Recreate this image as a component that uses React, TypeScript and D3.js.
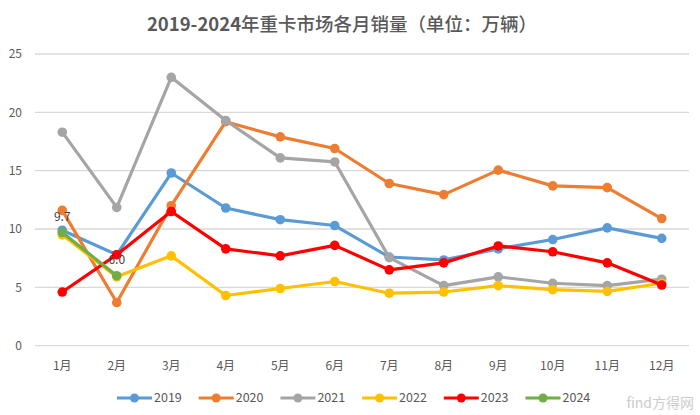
import React from "react";
import * as d3 from "d3";

const months = ["1月","2月","3月","4月","5月","6月","7月","8月","9月","10月","11月","12月"];
const years = ["2019","2020","2021","2022","2023","2024"];
const colors = ["#5B9BD5","#ED7D31","#A5A5A5","#FFC000","#FF0000","#70AD47"];
const s2019 = [9.9, 7.8, 14.8, 11.8, 10.8, 10.3, 7.6, 7.35, 8.3, 9.1, 10.1, 9.2];
const s2020 = [11.6, 3.7, 12.0, 19.2, 17.9, 16.9, 13.9, 12.95, 15.05, 13.7, 13.55, 10.9];
const s2021 = [18.3, 11.85, 23.0, 19.3, 16.1, 15.75, 7.55, 5.15, 5.9, 5.35, 5.15, 5.7];
const s2022 = [9.5, 5.9, 7.7, 4.3, 4.9, 5.5, 4.5, 4.6, 5.15, 4.8, 4.65, 5.35];
const s2023 = [4.6, 7.8, 11.5, 8.3, 7.7, 8.6, 6.5, 7.1, 8.55, 8.05, 7.1, 5.2];
const s2024 = [9.7, 6.0];
const series = [s2019, s2020, s2021, s2022, s2023, s2024];
const yTicks = [0, 5, 10, 15, 20, 25];

export default function App() {
  const W = 700, H = 415;
  const left = 35, right = 689, top = 54, bottom = 345.7;
  const x = d3.scaleBand<string>().domain(months).range([left, right]);
  const y = d3.scaleLinear().domain([0, 25]).range([bottom, top]);
  const cx = (m: string) => (x(m) as number) + x.bandwidth() / 2;
  const line = d3.line<number>().x((_, i) => cx(months[i])).y((d) => y(d));
  const font = "'Noto Sans CJK SC', 'Noto Sans', sans-serif";
  const legendX0 = 117, legendStep = 81.7;
  return (
    <svg width={W} height={H} style={{ position: "absolute", left: 0, top: 0, background: "#fff" }} fontFamily={font}>
      <text x={342} y={31} textAnchor="middle" fontSize={18.5} fill="#595959">
        <tspan fontWeight="bold">2019-2024</tspan>
        <tspan fontWeight="500">年重卡市场各月销量（单位：万辆）</tspan>
      </text>
      {yTicks.map((t) => (
        <g key={t}>
          <line x1={left} x2={right} y1={y(t)} y2={y(t)} stroke="#D9D9D9" strokeWidth={1.3} />
          <text x={22} y={y(t)} dy="0.35em" textAnchor="end" fontSize={12} fill="#595959">{t}</text>
        </g>
      ))}
      {months.map((m) => (
        <text key={m} x={cx(m)} y={370} textAnchor="middle" fontSize={12} fill="#595959">{m}</text>
      ))}
      {series.map((s, si) => (
        <g key={years[si]}>
          <path d={line(s) || ""} fill="none" stroke={colors[si]} strokeWidth={3.2} strokeLinejoin="round" />
          {s.map((v, i) => (
            <circle key={i} cx={cx(months[i])} cy={y(v)} r={4.8} fill={colors[si]} />
          ))}
        </g>
      ))}
      {s2024.map((v, i) => (
        <text key={i} x={cx(months[i])} y={y(v) - 12} textAnchor="middle" fontSize={12} fill="#404040">
          {v.toFixed(1)}
        </text>
      ))}
      {years.map((yr, i) => {
        const lx = legendX0 + i * legendStep;
        return (
          <g key={yr}>
            <line x1={lx} x2={lx + 35} y1={398} y2={398} stroke={colors[i]} strokeWidth={3.2} />
            <circle cx={lx + 17.5} cy={398} r={4.5} fill={colors[i]} />
            <text x={lx + 37} y={398} dy="0.35em" fontSize={12.5} fill="#595959">{yr}</text>
          </g>
        );
      })}
      <text x={694} y={408} textAnchor="end" fontSize={14} fill="#CCCCCC">find方得网</text>
    </svg>
  );
}
